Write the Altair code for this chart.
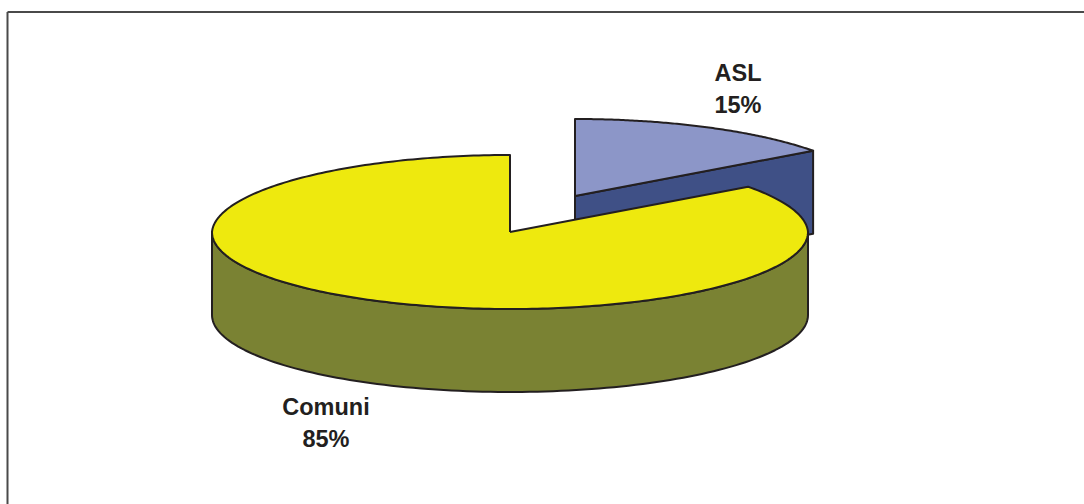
import numpy as np
import pandas as pd
import altair as alt

# Slice shares in percent
categories = ["ASL", "Comuni"]
shares = [15, 85]
share_labels = ["15%", "85%"]

W, H = 1084, 504
RX, RY, DEPTH = 298, 77, 83
CENTER = (510, 232)
ASL_CENTER = (575, 196)  # the ASL slice is pulled out of the pie
NARROWING = 0.021  # the far half of the pie is slightly narrower in perspective
INK = "#231F20"

x_scale = alt.Scale(domain=[0, W], range=[0, W], nice=False, zero=False)
y_scale = alt.Scale(domain=[0, H], range=[0, H], nice=False, zero=False)


def rim(center, start, end, drop=0, n=120):
    """Points along the tilted ellipse; angles run clockwise from 12 o'clock."""
    t = np.radians(np.linspace(start, end, n))
    far = np.clip(np.cos(t), 0, None)
    return list(zip(
        center[0] + RX * np.sin(t) * (1 - NARROWING * far),
        center[1] - RY * np.cos(t) + drop,
    ))


def face(points, fill):
    """Closed outlined polygon through the chart's x and y scales."""
    pts = list(points) + [points[0]]
    df = pd.DataFrame(pts, columns=["px", "py"]).assign(i=range(len(pts)))
    return alt.Chart(df).mark_line(
        fill=fill, stroke=INK, strokeWidth=2, strokeJoin="round", interpolate="linear"
    ).encode(
        x=alt.X("px:Q", scale=x_scale, axis=None),
        y=alt.Y("py:Q", scale=y_scale, axis=None),
        order="i:Q",
    )


split = shares[0] / sum(shares) * 360

# ASL: cut wall first, then its top face
asl_edge = rim(ASL_CENTER, split, split, n=1)[0]
asl_wall = face(
    [ASL_CENTER, asl_edge, (asl_edge[0], asl_edge[1] + DEPTH),
     (ASL_CENTER[0], ASL_CENTER[1] + DEPTH)],
    "#3F5086",
)
asl_top = face([ASL_CENTER] + rim(ASL_CENTER, 0, split), "#8C96C8")

# Comuni: outer wall, then its top face
comuni_wall = face(rim(CENTER, 90, 270) + rim(CENTER, 270, 90, drop=DEPTH), "#7A8233")
comuni_top = face([CENTER] + rim(CENTER, split, 360, n=300), "#EEE90E")

# Frame: top and left border lines
frame = pd.DataFrame({"x1": [7.5, 7.5], "x2": [W, 7.5], "y1": [12, 12], "y2": [12, H]})
border = alt.Chart(frame).mark_rule(color="#4A4A4A", strokeWidth=2).encode(
    x=alt.X("x1:Q", scale=x_scale, axis=None),
    x2="x2:Q",
    y=alt.Y("y1:Q", scale=y_scale, axis=None),
    y2="y2:Q",
)

# Two-line slice labels
label_x = [738, 326]
name_y = [81, 415]
value_y = [113, 447]
labels = pd.DataFrame({
    "text": categories + share_labels,
    "lx": label_x * 2,
    "ly": name_y + value_y,
})
label_layer = alt.Chart(labels).mark_text(
    font="Liberation Sans", fontSize=23.5, fontWeight="bold", color=INK,
    align="center", baseline="alphabetic",
).encode(
    x=alt.X("lx:Q", scale=x_scale, axis=None),
    y=alt.Y("ly:Q", scale=y_scale, axis=None),
    text="text:N",
)

chart = alt.layer(
    border, asl_wall, asl_top, comuni_wall, comuni_top, label_layer
).properties(
    width=W, height=H, padding=0, autosize=alt.AutoSizeParams(type="none"),
    background="white",
).configure_view(stroke=None)

chart.save("out.html", embed_options={"renderer": "svg", "actions": False})
